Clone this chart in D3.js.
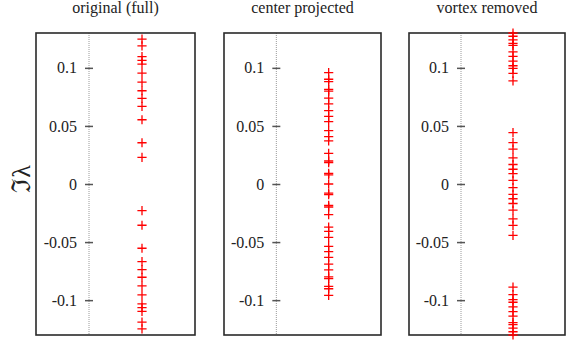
<!DOCTYPE html>
<html>
<head>
<meta charset="utf-8">
<script src="https://cdn.jsdelivr.net/npm/d3@7"></script>
<style>
  html, body { margin: 0; padding: 0; background: #fff; }
  svg { display: block; }
</style>
</head>
<body>
<svg id="chart" width="569" height="341"></svg>
<script>
// Imaginary parts of the spectrum for each variant (conjugate pairs)
const panelTitles = ["original (full)", "center projected", "vortex removed"];

const halfOriginal = [0.0230, 0.0355, 0.0553, 0.0668, 0.0737, 0.0803, 0.0877,
                      0.0955, 0.1032, 0.1064, 0.1097, 0.1190, 0.1248];

const halfProjected = [0.0078, 0.0092, 0.0184, 0.0198, 0.0264, 0.0371, 0.0408,
                       0.0460, 0.0537, 0.0583, 0.0632, 0.0690, 0.0739, 0.0800,
                       0.0815, 0.0882, 0.0902, 0.0958];

const halfRemoved = [0.0032, 0.0089, 0.0127, 0.0168, 0.0225, 0.0300, 0.0357,
                     0.0443, 0.0887, 0.0952, 0.0996, 0.1018, 0.1058, 0.1099,
                     0.1138, 0.1193, 0.1210, 0.1240, 0.1272, 0.1300];

const valuesOriginal = halfOriginal.flatMap(v => [v, -v]);
const valuesProjected = [0].concat(halfProjected.flatMap(v => [v, -v]));
const valuesRemoved = halfRemoved.flatMap(v => [v, -v]);

const seriesValues = [valuesOriginal, valuesProjected, valuesRemoved];
const tickValues = [-0.1, -0.05, 0, 0.05, 0.1];
const tickLabels = ["-0.1", "-0.05", "0", "0.05", "0.1"];

const serif = "'Liberation Serif'";

// Frame extents of the three panels
const frames = [
  { left: 36, right: 195 },
  { left: 224, right: 381 },
  { left: 409, right: 565 }
];
const frameTop = 33, frameBottom = 335;

const svg = d3.select("#chart");
const y = d3.scaleLinear().domain([-0.13, 0.13]).range([frameBottom, frameTop]);

frames.forEach((f, i) => {
  const x = d3.scaleLinear().domain([-1, 2]).range([f.left, f.right]);
  const g = svg.append("g");
  const x0 = x(0);

  // zero axis (dotted)
  g.append("line")
    .attr("x1", x0).attr("x2", x0)
    .attr("y1", frameTop).attr("y2", frameBottom)
    .attr("stroke", "#9a9a9a")
    .attr("stroke-width", 1)
    .attr("stroke-dasharray", "1,1");

  // y axis drawn on the zero line, ticks straddling it
  const axis = d3.axisLeft(y)
    .tickValues(tickValues)
    .tickFormat((d, k) => tickLabels[k])
    .tickSizeInner(0)
    .tickSizeOuter(0)
    .tickPadding(12);
  const ax = g.append("g")
    .attr("transform", `translate(${x0},0)`)
    .call(axis);
  ax.select(".domain").remove();
  ax.selectAll(".tick text")
    .attr("font-family", serif)
    .attr("font-size", 16)
    .attr("fill", "#222");
  ax.selectAll(".tick").append("line")
    .attr("x1", -4).attr("x2", 4)
    .attr("y1", 0).attr("y2", 0)
    .attr("stroke", "#555")
    .attr("stroke-width", 1.5);

  // frame
  g.append("rect")
    .attr("x", f.left).attr("y", frameTop)
    .attr("width", f.right - f.left)
    .attr("height", frameBottom - frameTop)
    .attr("fill", "none")
    .attr("stroke", "#2a2a2a")
    .attr("stroke-width", 1.6);

  // plus markers
  const s = 4.6;
  g.append("g")
    .attr("stroke", "#ff0000")
    .attr("stroke-width", 1.3)
    .selectAll("path")
    .data(seriesValues[i])
    .join("path")
    .attr("d", d => {
      const cx = x(1), cy = y(d);
      return `M${cx - s},${cy}H${cx + s}M${cx},${cy - s}V${cy + s}`;
    });

  // panel title
  svg.append("text")
    .attr("x", (f.left + f.right) / 2)
    .attr("y", 13)
    .attr("text-anchor", "middle")
    .attr("font-family", serif)
    .attr("font-size", 16)
    .attr("fill", "#222")
    .text(panelTitles[i]);
});

// y axis label
svg.append("text")
  .attr("transform", "translate(30,179) rotate(-90)")
  .attr("text-anchor", "middle")
  .attr("font-family", serif)
  .attr("font-size", 26)
  .attr("fill", "#222")
  .text("ℑλ");
</script>
</body>
</html>
